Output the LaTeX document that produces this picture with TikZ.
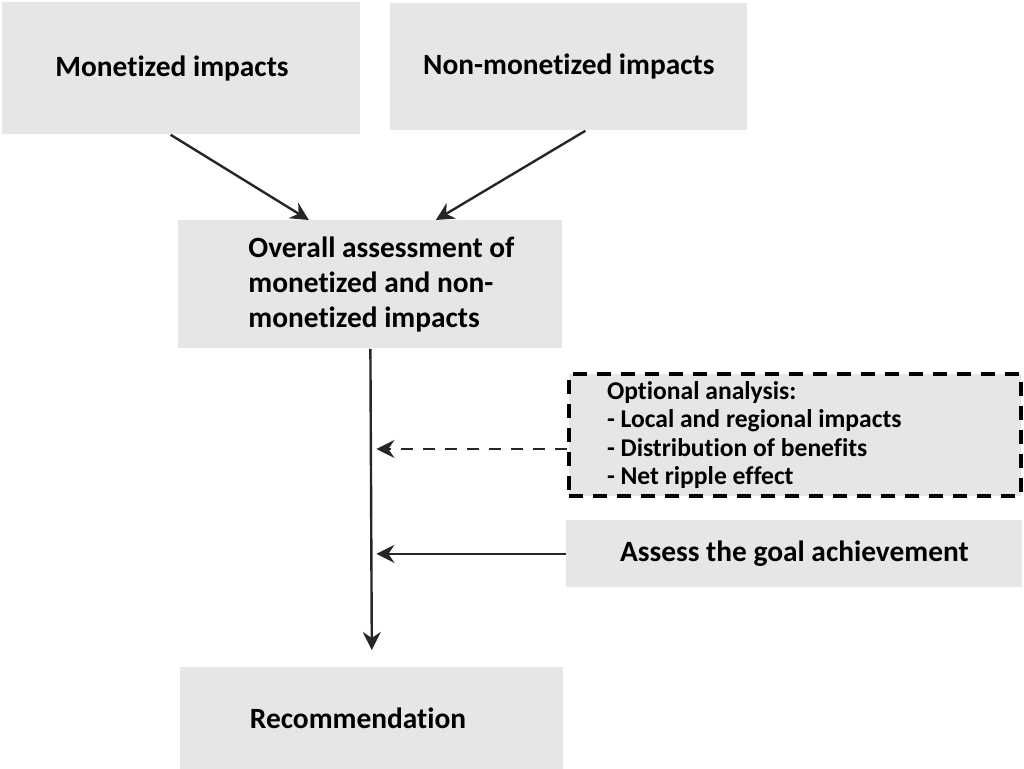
\documentclass[tikz,border=0pt]{standalone}
\usepackage{fontspec}
\setmainfont{Carlito}[Ligatures={NoCommon}]
\usetikzlibrary{arrows.meta,calc}
\definecolor{boxgray}{HTML}{E6E6E6}

\begin{document}
\begin{tikzpicture}[x=0.5pt,y=-0.5pt,
	box/.style={fill=boxgray, inner sep=0pt, anchor=north west, font=\fontsize{14.7}{17.5}\selectfont\bfseries},
	dashbox/.style={draw=black, line width=2pt, dash pattern=on 7pt off 5pt, font=\fontsize{12.8}{14.3}\selectfont\bfseries},
	arr/.style={line width=1.2pt, draw=black!85, -{Stealth[length=9pt,width=9pt,inset=3pt]}},
	dasharr/.style={dash pattern=on 6pt off 5pt}]
	\useasboundingbox (0,0) rectangle (1024,769);
	\node [box, minimum width=179pt, minimum height=66pt, text width=126pt, align=flush left] (mon) at (2,2) {Monetized impacts};
	\node [box, minimum width=178.5pt, minimum height=63.5pt, align=center] (non) at (390,3) {Non-monetized impacts};
	\node [box, minimum width=192pt, minimum height=64pt, text width=122pt, align=flush left] (ovr) at (178,220) {\mbox{Overall assessment of}\\\mbox{monetized and non-}\\\mbox{monetized impacts}};
	\node [box, dashbox, minimum width=226pt, minimum height=61pt, text width=188pt, align=flush left] (opt) at (567,372) {Optional analysis:\\- Local and regional impacts\\- Distribution of benefits\\- Net ripple effect};
	\node [box, minimum width=228pt, minimum height=33.5pt, align=center] (ass) at (566,520) {Assess the goal achievement};
	\node [box, minimum width=191.5pt, minimum height=51pt, text width=122pt, align=flush left] (rec) at (180,667) {Recommendation};
	\draw [arr] ($(mon.south west)!0.47!(mon.south east)$) -- ($(ovr.north west)!0.34!(ovr.north east)$);
	\draw [arr] ($(non.south west)!0.546!(non.south east)$) -- ($(ovr.north west)!0.67!(ovr.north east)$);
	\draw [arr, shorten >=8.5pt] (ovr.south) -- (rec.north);
	\coordinate (spine) at ($(ovr.south)+(6,0)$);
	\coordinate (optout) at ($(opt.west)+(0,14)$);
	\draw [arr, dasharr] (optout) -- (optout -| spine);
	\draw [arr] (ass.west) -- (ass.west -| spine);
\end{tikzpicture}
\end{document}
